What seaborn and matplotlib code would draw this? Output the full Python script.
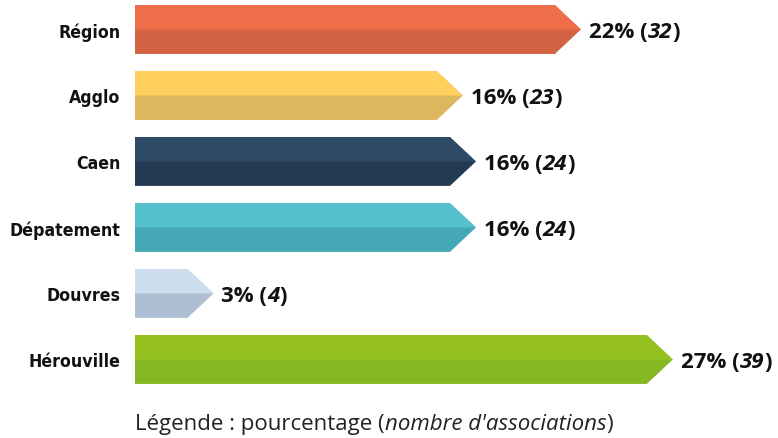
import matplotlib
matplotlib.use("Agg")
import matplotlib.pyplot as plt
import matplotlib.transforms as mtransforms
from matplotlib.patches import Polygon
import seaborn as sns

# Data
regions = ["Région", "Agglo", "Caen", "Dépatement", "Douvres", "Hérouville"]
counts = [32, 23, 24, 24, 4, 39]
percents = [22, 16, 16, 16, 3, 27]

light_colors = ["#EE6E4A", "#FFD05E", "#2D4A66", "#55C1CD", "#CCDDEE", "#95C120"]
dark_colors = ["#D26242", "#DCB75E", "#243A52", "#45A9B5", "#AEBFD3", "#86B724"]

sns.set_style("white")
plt.rcParams["font.family"] = ["Open Sans", "DejaVu Sans"]

W, H = 778, 439
fig = plt.figure(figsize=(W / 100, H / 100), dpi=100)
ax = fig.add_axes([135 / W, 1.0057 - 396 / H, 643 / W, 396 / H])

sns.barplot(x=counts, y=regions, hue=regions, palette=dark_colors,
            width=0.74, orient="h", legend=False, ax=ax)
ax.set_xlim(0, 49)
ax.set_ylim(5.5, -0.5)
ax.set_xticks([])
ax.set_xlabel("")
ax.set_ylabel("")
sns.despine(ax=ax, left=True, bottom=True)
ax.tick_params(axis="y", length=0, pad=10.5)
for lbl in ax.get_yticklabels():
    lbl.set_family("DejaVu Sans")
    lbl.set_fontstretch("condensed")
    lbl.set_fontweight("bold")
    lbl.set_fontsize(12.7)
    lbl.set_color("#111111")

renderer = fig.canvas.get_renderer()
ident = mtransforms.IdentityTransform()


def chain_text(parts, x, y, **kw):
    # write pieces one after another on the same baseline (display coords)
    for s, style in parts:
        t = fig.text(x, y, s, transform=ident, ha="left", va="baseline",
                     fontstyle=style, **kw)
        x = t.get_window_extent(renderer).x1


tip_px = 26
px_per_unit = ax.transData.transform((1, 0))[0] - ax.transData.transform((0, 0))[0]
tip = tip_px / px_per_unit

bars = [c[0] for c in ax.containers]
for i, rect in enumerate(bars):
    x0, y0 = rect.get_x(), rect.get_y()
    w, h = rect.get_width(), rect.get_height()
    ym = y0 + h / 2
    rect.set_visible(False)
    full = [(x0, y0), (x0 + w, y0), (x0 + w + tip, ym), (x0 + w, y0 + h), (x0, y0 + h)]
    top = [(x0, y0), (x0 + w, y0), (x0 + w + tip, ym), (x0, ym)]
    ax.add_patch(Polygon(full, closed=True, facecolor=dark_colors[i], edgecolor="none"))
    ax.add_patch(Polygon(top, closed=True, facecolor=light_colors[i], edgecolor="none"))

    dx, dy = ax.transData.transform((x0 + w + tip, ym))
    chain_text([(f"{percents[i]}% (", "normal"), (f"{counts[i]}", "italic"), (")", "normal")],
               dx + 8, dy - 8, fontsize=16, fontweight="bold", color="#111111")

chain_text([("Légende : pourcentage (", "normal"), ("nombre d'associations", "italic"), (")", "normal")],
           135, H - 430, fontsize=16, color="#222222")

fig.savefig("out.png", dpi=100)
